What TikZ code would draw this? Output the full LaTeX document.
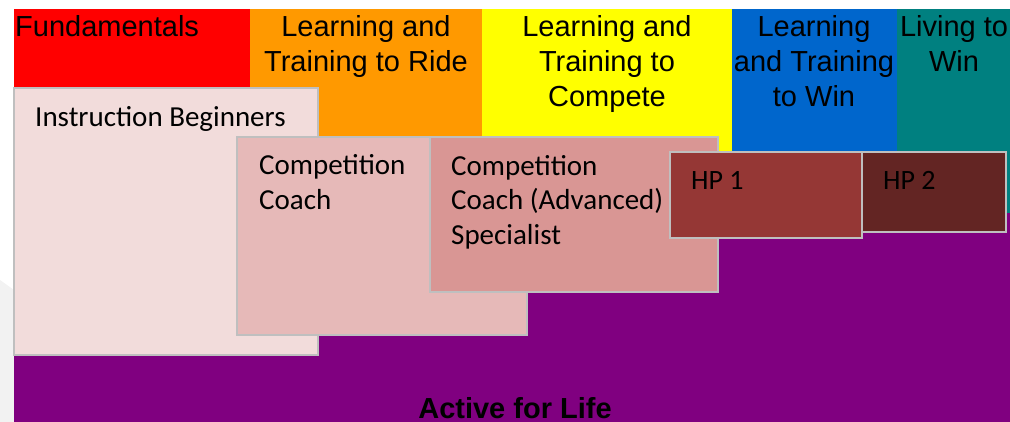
\documentclass[tikz,border=0pt]{standalone}
\usepackage{fontspec}
\setmainfont{Liberation Sans}
\newfontfamily\boxfont{Carlito}

\definecolor{fundred}{HTML}{FF0000}
\definecolor{rideorange}{HTML}{FF9900}
\definecolor{competeyellow}{HTML}{FFFF00}
\definecolor{winblue}{HTML}{0066CC}
\definecolor{livingteal}{HTML}{008080}
\definecolor{lifepurple}{HTML}{800080}
\definecolor{edgegray}{HTML}{BFBFBF}
\definecolor{beginfill}{HTML}{F2DCDB}
\definecolor{coachfill}{HTML}{E6B9B8}
\definecolor{advfill}{HTML}{D99694}
\definecolor{hponefill}{HTML}{953735}
\definecolor{hptwofill}{HTML}{632523}
\definecolor{slidegray}{HTML}{F2F2F2}

\tikzset{
    bandtext/.style={font=\fontsize{29}{35}\selectfont, align=center, anchor=base, inner sep=0pt},
    level/.style={draw=edgegray, line width=1.5pt},
    leveltext/.style={font=\boxfont\fontsize{29}{35}\selectfont, align=left, anchor=base west, inner sep=0pt}
}

\begin{document}
\begin{tikzpicture}[x=1pt, y=-1pt]

        \useasboundingbox (0,0) rectangle (1010,422);
        \fill[slidegray] (0,280) -- (14,290) -- (14,422) -- (0,422) -- cycle;

        % Bands (base anchor sits on the last line)
        \fill[fundred] (14,9) rectangle (250,213);
        \fill[rideorange] (250,9) rectangle (482,213);
        \fill[competeyellow] (482,9) rectangle (732,213);
        \fill[winblue] (732,9) rectangle (897,213);
        \fill[livingteal] (897,9) rectangle (1010,213);

        % Active for life underneath
        \fill[lifepurple] (14,213) rectangle (1010,422);

        \node[bandtext, anchor=base west] (fund) at (15,37) {Fundamentals};
        \node[bandtext] (ride) at (366,72) {Learning and\\Training to Ride};
        \node[bandtext] (compete) at (607,107) {Learning and\\Training to\\Compete};
        \node[bandtext] (win) at (814,107) {Learning\\and Training\\to Win};
        \node[bandtext] (living) at (954,72) {Living to\\Win};
        \node[bandtext, font=\bfseries\fontsize{29}{35}\selectfont] (life) at (515,418) {Active for Life};

        % Coaching levels
        \draw[level, fill=beginfill] (14,88) rectangle (318,355);
        \draw[level, fill=coachfill] (237,137) rectangle (527,335);
        \draw[level, fill=advfill] (430,137) rectangle (718,292);
        \draw[level, fill=hponefill] (670,152) rectangle (862,238);
        \draw[level, fill=hptwofill] (862,152) rectangle (1006,232);

        \node[leveltext] (begin) at (35,127) {Instruction Beginners};
        \node[leveltext] (coach) at (259,210) {Competition\\Coach};
        \node[leveltext] (adv) at (451,245) {Competition\\Coach (Advanced)\\Specialist};
        \node[leveltext, font=\boxfont\fontsize{28}{35}\selectfont] (hpone) at (691,190) {HP 1};
        \node[leveltext, font=\boxfont\fontsize{28}{35}\selectfont] (hptwo) at (883,190) {HP 2};

\end{tikzpicture}
\end{document}
